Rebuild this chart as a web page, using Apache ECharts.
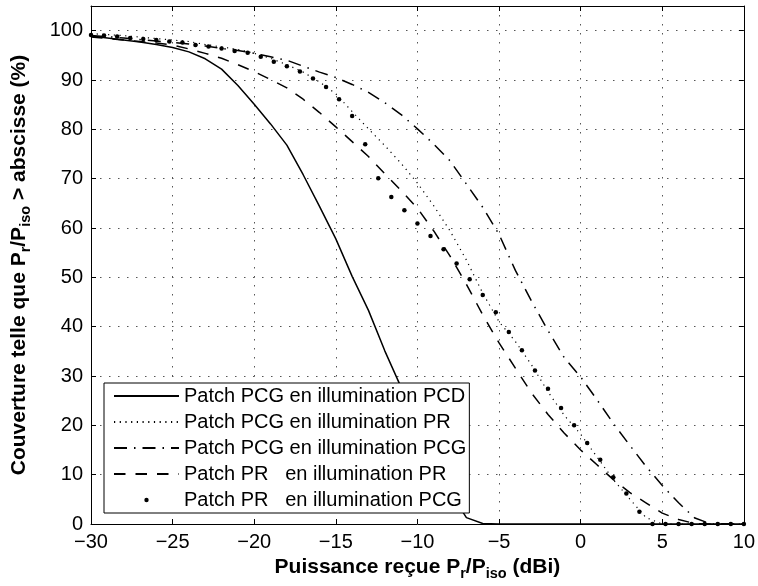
<!DOCTYPE html>
<html>
<head>
<meta charset="utf-8">
<script src="https://cdn.jsdelivr.net/npm/echarts@6/dist/echarts.min.js"></script>
<style>
html,body{margin:0;padding:0;background:#fff;}
#chart{width:758px;height:586px;}
</style>
</head>
<body>
<div id="chart"></div>
<script>
// ---- data ----
const xTicks = [-30, -25, -20, -15, -10, -5, 0, 5, 10];
const yTicks = [0, 10, 20, 30, 40, 50, 60, 70, 80, 90, 100];

const seriesNames = [
  'Patch PCG en illumination PCD',
  'Patch PCG en illumination PR',
  'Patch PCG en illumination PCG',
  'Patch PR   en illumination PR',
  'Patch PR   en illumination PCG'
];

const xLine = [-30,-29,-28,-27,-26,-25,-24,-23,-22,-21,-20,-19,-18,-17,-16,-15,-14,-13,-12,-11,-10,
               -9,-8,-7,-6,-5,-4,-3,-2,-1,0,1,2,3,4,5,6,7,8,9,10];

const pcgPcd = [98.9,98.5,98.1,97.7,97.2,96.6,95.7,94.3,92.2,88.9,85.1,81.1,76.8,70.8,64.4,57.8,50.2,43.3,35.1,27.7,20.6,
                13.2,6.5,1.3,0.1,0,0,0,0,0,0,0,0,0,0,0,0,0,0,0,0];

const pcgPr = [99.4,99.2,99.0,98.7,98.4,98.1,97.8,97.2,96.7,96.2,95.4,94.4,93.1,91.6,89.6,87.2,83.6,80.1,76.7,73.1,69.1,
               64.5,59.4,53.5,46.8,41.0,37.0,32.2,26.8,22.0,18.2,13.6,9.0,5.1,1.3,0,0,0,0,0,0];

const pcgPcg = [99.0,98.8,98.5,98.2,97.9,97.6,97.3,96.9,96.4,96.0,95.4,94.7,94.0,92.8,91.6,90.5,89.1,87.5,85.4,83.0,80.1,
                77.0,73.6,68.9,64.2,58.7,51.4,45.1,39.2,33.7,29.8,25.2,20.4,16.0,11.7,7.8,4.3,1.2,0,0,0];

const prPr = [98.7,98.4,98.1,97.8,97.5,97.1,96.3,95.4,94.4,93.1,91.7,90.1,88.4,86.1,83.4,80.5,77.5,74.5,71.0,67.6,64.0,
              59.4,54.3,48.6,42.4,36.7,31.6,26.5,22.2,18.4,15.0,12.0,9.0,6.4,4.3,2.2,0.9,0.1,0,0,0];

const xDots = [-30,-29.2,-28.4,-27.6,-26.8,-26,-25.2,-24.4,-23.6,-22.8,-22,-21.2,-20.4,-19.6,-18.8,-18,-17.2,-16.4,-15.6,
               -14.8,-14,-13.2,-12.4,-11.6,-10.8,-10,-9.2,-8.4,-7.6,-6.8,-6,-5.2,-4.4,-3.6,-2.8,-2,-1.2,-0.4,0.4,1.2,
               2,2.8,3.6,4.4,5.2,6,6.8,7.6,8.4,9.2,10];
const prPcg = [99.1,99.0,98.8,98.5,98.3,98.1,97.8,97.6,97.1,96.8,96.4,95.9,95.5,94.7,93.7,92.8,91.7,90.3,88.6,
               86.1,82.7,77.0,70.1,66.3,63.6,60.9,58.4,55.7,52.8,49.6,46.4,42.9,38.9,35.2,31.1,27.4,23.5,20.0,16.4,13.0,
               9.5,6.2,2.5,0,0,0,0,0,0,0,0];

// ---- chart ----
const FONT = 'Liberation Sans, Arial, Helvetica, sans-serif';
const pairs = (xs, ys) => xs.map((x, i) => [x, ys[i]]);
const fmtX = v => xTicks.includes(v) ? (v < 0 ? '\u2212' + (-v) : String(v)) : '';
const fmtY = v => yTicks.includes(v) ? String(v) : '';

const richName = {
  b: {fontSize: 21, fontWeight: 'bold', fontFamily: FONT, color: '#000'},
  s: {fontSize: 14.5, fontWeight: 'bold', fontFamily: FONT, color: '#000', padding: [12, 0, 0, 0]}
};

const gridLine = {show: true, lineStyle: {color: '#555', width: 1, type: [1.5, 7.5]}};
const axisLine = {show: true, onZero: false, lineStyle: {color: '#000', width: 1}};
const axisTick = {show: true, inside: true, length: 5, lineStyle: {color: '#000', width: 1}};
const hideSym = {opacity: 0};

const chart = echarts.init(document.getElementById('chart'), null, {renderer: 'canvas'});
chart.setOption({
  animation: false,
  backgroundColor: '#fff',
  grid: {left: 91, right: 11, top: 6, bottom: 62},
  xAxis: [{
    type: 'value', min: -30, max: 10, interval: 5, position: 'bottom',
    axisLine: axisLine, axisTick: axisTick, splitLine: gridLine,
    axisLabel: {formatter: fmtX, color: '#000', fontSize: 20, fontFamily: FONT, margin: 8},
    name: '{b|Puissance reçue P}{s|r}{b|/P}{s|iso}{b| (dBi)}',
    nameLocation: 'middle', nameGap: 30,
    nameTextStyle: {rich: richName}
  }, {
    type: 'value', min: -30, max: 10, interval: 5, position: 'top',
    axisLine: axisLine, axisTick: axisTick, splitLine: {show: false},
    axisLabel: {show: false}
  }],
  yAxis: [{
    type: 'value', min: 0, max: 105, interval: 10, position: 'left',
    axisLine: axisLine, axisTick: axisTick, splitLine: gridLine,
    axisLabel: {formatter: fmtY, color: '#000', fontSize: 20, fontFamily: FONT, margin: 8},
    name: '{b|Couverture telle que P}{s|r}{b|/P}{s|iso}{b| > abscisse (%)}',
    nameLocation: 'middle', nameGap: 58, nameRotate: 90,
    nameTextStyle: {rich: richName}
  }, {
    type: 'value', min: 0, max: 105, interval: 10, position: 'right',
    axisLine: axisLine, axisTick: axisTick, splitLine: {show: false},
    axisLabel: {show: false}
  }],
  legend: {
    orient: 'vertical', left: 104, top: 383,
    backgroundColor: '#fff', borderColor: '#000', borderWidth: 1, borderRadius: 0,
    padding: [3, 3, 3, 9], itemGap: 6, itemWidth: 65, itemHeight: 14,
    selectedMode: false,
    textStyle: {fontSize: 20, color: '#000', fontFamily: FONT, lineHeight: 20},
    data: [
      {name: seriesNames[0], itemStyle: hideSym},
      {name: seriesNames[1], itemStyle: hideSym},
      {name: seriesNames[2], itemStyle: hideSym},
      {name: seriesNames[3], itemStyle: hideSym},
      {name: seriesNames[4], icon: 'path://M0,0M65,14M30.3,7a2.2,2.2,0,1,0,4.4,0a2.2,2.2,0,1,0,-4.4,0Z'}
    ]
  },
  series: [
    {name: seriesNames[0], type: 'line', symbol: 'none', data: pairs(xLine, pcgPcd),
     lineStyle: {color: '#000', width: 1.5, type: 'solid'}, itemStyle: {color: '#000'}},
    {name: seriesNames[1], type: 'line', symbol: 'none', data: pairs(xLine, pcgPr),
     lineStyle: {color: '#000', width: 1.2, type: [1.2, 4.5]}, itemStyle: {color: '#000'}},
    {name: seriesNames[2], type: 'line', symbol: 'none', data: pairs(xLine, pcgPcg),
     lineStyle: {color: '#000', width: 1.5, type: [13, 7, 1.5, 7]}, itemStyle: {color: '#000'}},
    {name: seriesNames[3], type: 'line', symbol: 'none', data: pairs(xLine, prPr),
     lineStyle: {color: '#000', width: 1.5, type: [11.5, 10]}, itemStyle: {color: '#000'}},
    {name: seriesNames[4], type: 'scatter', symbol: 'circle', symbolSize: 4.5, data: pairs(xDots, prPcg),
     itemStyle: {color: '#000', opacity: 1}}
  ]
});
</script>
</body>
</html>
